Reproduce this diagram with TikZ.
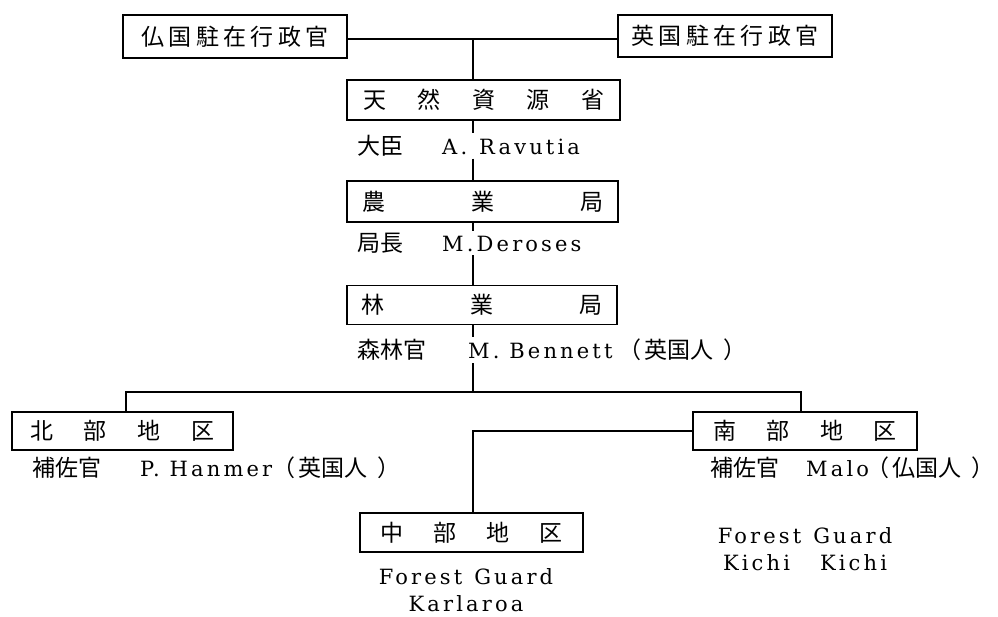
\documentclass[tikz,border=0pt]{standalone}
\usepackage{fontspec}
\setmainfont{DejaVu Serif}
\newfontfamily\jp{Noto Sans CJK JP}
\newfontfamily\lat{DejaVu Serif}[LetterSpace=15]
\newcommand{\jpt}[1]{{\jp\fontsize{23}{26}\selectfont #1}}
\newcommand{\nat}[1]{\jpt{（}\hspace{3pt}\jpt{#1}\hspace{10pt}\jpt{）}}
\begin{document}
\begin{tikzpicture}[x=1pt,y=-1pt,
  box/.style={draw,line width=1.4pt,inner sep=0pt,font=\jp\fontsize{23}{23}\selectfont},
  lab/.style={inner xsep=0pt,inner ysep=2pt,font=\fontsize{21}{26}\selectfont,anchor=west},
  guard/.style={inner sep=1pt,align=center,font=\lat\fontsize{21}{27}\selectfont},
  conn/.style={line width=1.4pt}]
\useasboundingbox (0,0) rectangle (998,616);

% boxes
\node[box,minimum width=224pt,minimum height=43pt] (fr) at (235,36.5)
  {\makebox[187pt][s]{仏\hfill 国\hfill 駐\hfill 在\hfill 行\hfill 政\hfill 官}};
\node[box,minimum width=214pt,minimum height=42pt] (uk) at (725,36)
  {\makebox[187pt][s]{英\hfill 国\hfill 駐\hfill 在\hfill 行\hfill 政\hfill 官}};
\node[box,minimum width=273pt,minimum height=40pt] (tnr) at (483.5,100)
  {\makebox[241pt][s]{天\hfill 然\hfill 資\hfill 源\hfill 省}};
\node[box,minimum width=271pt,minimum height=41pt] (nog) at (482.5,201.5)
  {\makebox[241pt][s]{農\hfill 業\hfill 局}};
\node[box,minimum width=270pt,minimum height=39pt] (rin) at (482,305)
  {\makebox[241pt][s]{林\hfill 業\hfill 局}};
\node[box,minimum width=221pt,minimum height=38pt] (north) at (122.5,431)
  {\makebox[185pt][s]{北\hfill 部\hfill 地\hfill 区}};
\node[box,minimum width=224pt,minimum height=38pt] (south) at (805,431)
  {\makebox[183pt][s]{南\hfill 部\hfill 地\hfill 区}};
\node[box,minimum width=223pt,minimum height=39pt] (center) at (471.5,532.5)
  {\makebox[182pt][s]{中\hfill 部\hfill 地\hfill 区}};

% labels
\node[lab] (l1) at (357,146) {\jpt{大臣}\hspace{39pt}{\lat A.\hspace{12pt}Ravutia}};
\node[lab] (l2) at (357,243) {\jpt{局長}\hspace{39pt}{\lat M.Deroses}};
\node[lab] (l3) at (357,350) {\jpt{森林官}\hspace{42pt}{\lat M. Bennett}\hspace{6pt}\nat{英国人}};
\node[lab] (l4) at (32,468) {\jpt{補佐官}\hspace{39pt}{\lat P. Hanmer}\nat{英国人}};
\node[lab] (l5) at (710,468) {\jpt{補佐官}\hspace{27pt}{\lat Malo}\hspace{-3pt}\nat{仏国人}};
\node[guard] (l6) at (466,590) {Forest\hspace{12pt}Guard\\Karlaroa};
\node[guard] (l7) at (805,549) {Forest\hspace{12pt}Guard\\Kichi\hspace{30pt}Kichi};

% connectors
\coordinate (vx) at (473,0);
\coordinate (tj) at (473,39);
\coordinate (mj) at (473,392);
\coordinate (nj) at (126,392);
\coordinate (sj) at (801,392);
\draw[conn] ([yshift=-2.5pt]fr.east) -- ([yshift=-2.5pt]fr.east -| uk.west);
\draw[conn] (tj) -- (tj |- tnr.north);
\draw[conn] (vx |- tnr.south) -- (vx |- l1.north);
\draw[conn] (vx |- l1.south) -- (vx |- nog.north);
\draw[conn] (vx |- nog.south) -- (vx |- l2.north);
\draw[conn] (vx |- l2.south) -- (vx |- rin.north);
\draw[conn] (vx |- rin.south) -- (vx |- l3.north);
\draw[conn] (vx |- l3.south) -- (mj);
\draw[conn] (nj |- north.north) -- (nj) -- (sj) -- (sj |- south.north);
\draw[conn] (vx |- center.north) |- (south.west);
\end{tikzpicture}
\end{document}
